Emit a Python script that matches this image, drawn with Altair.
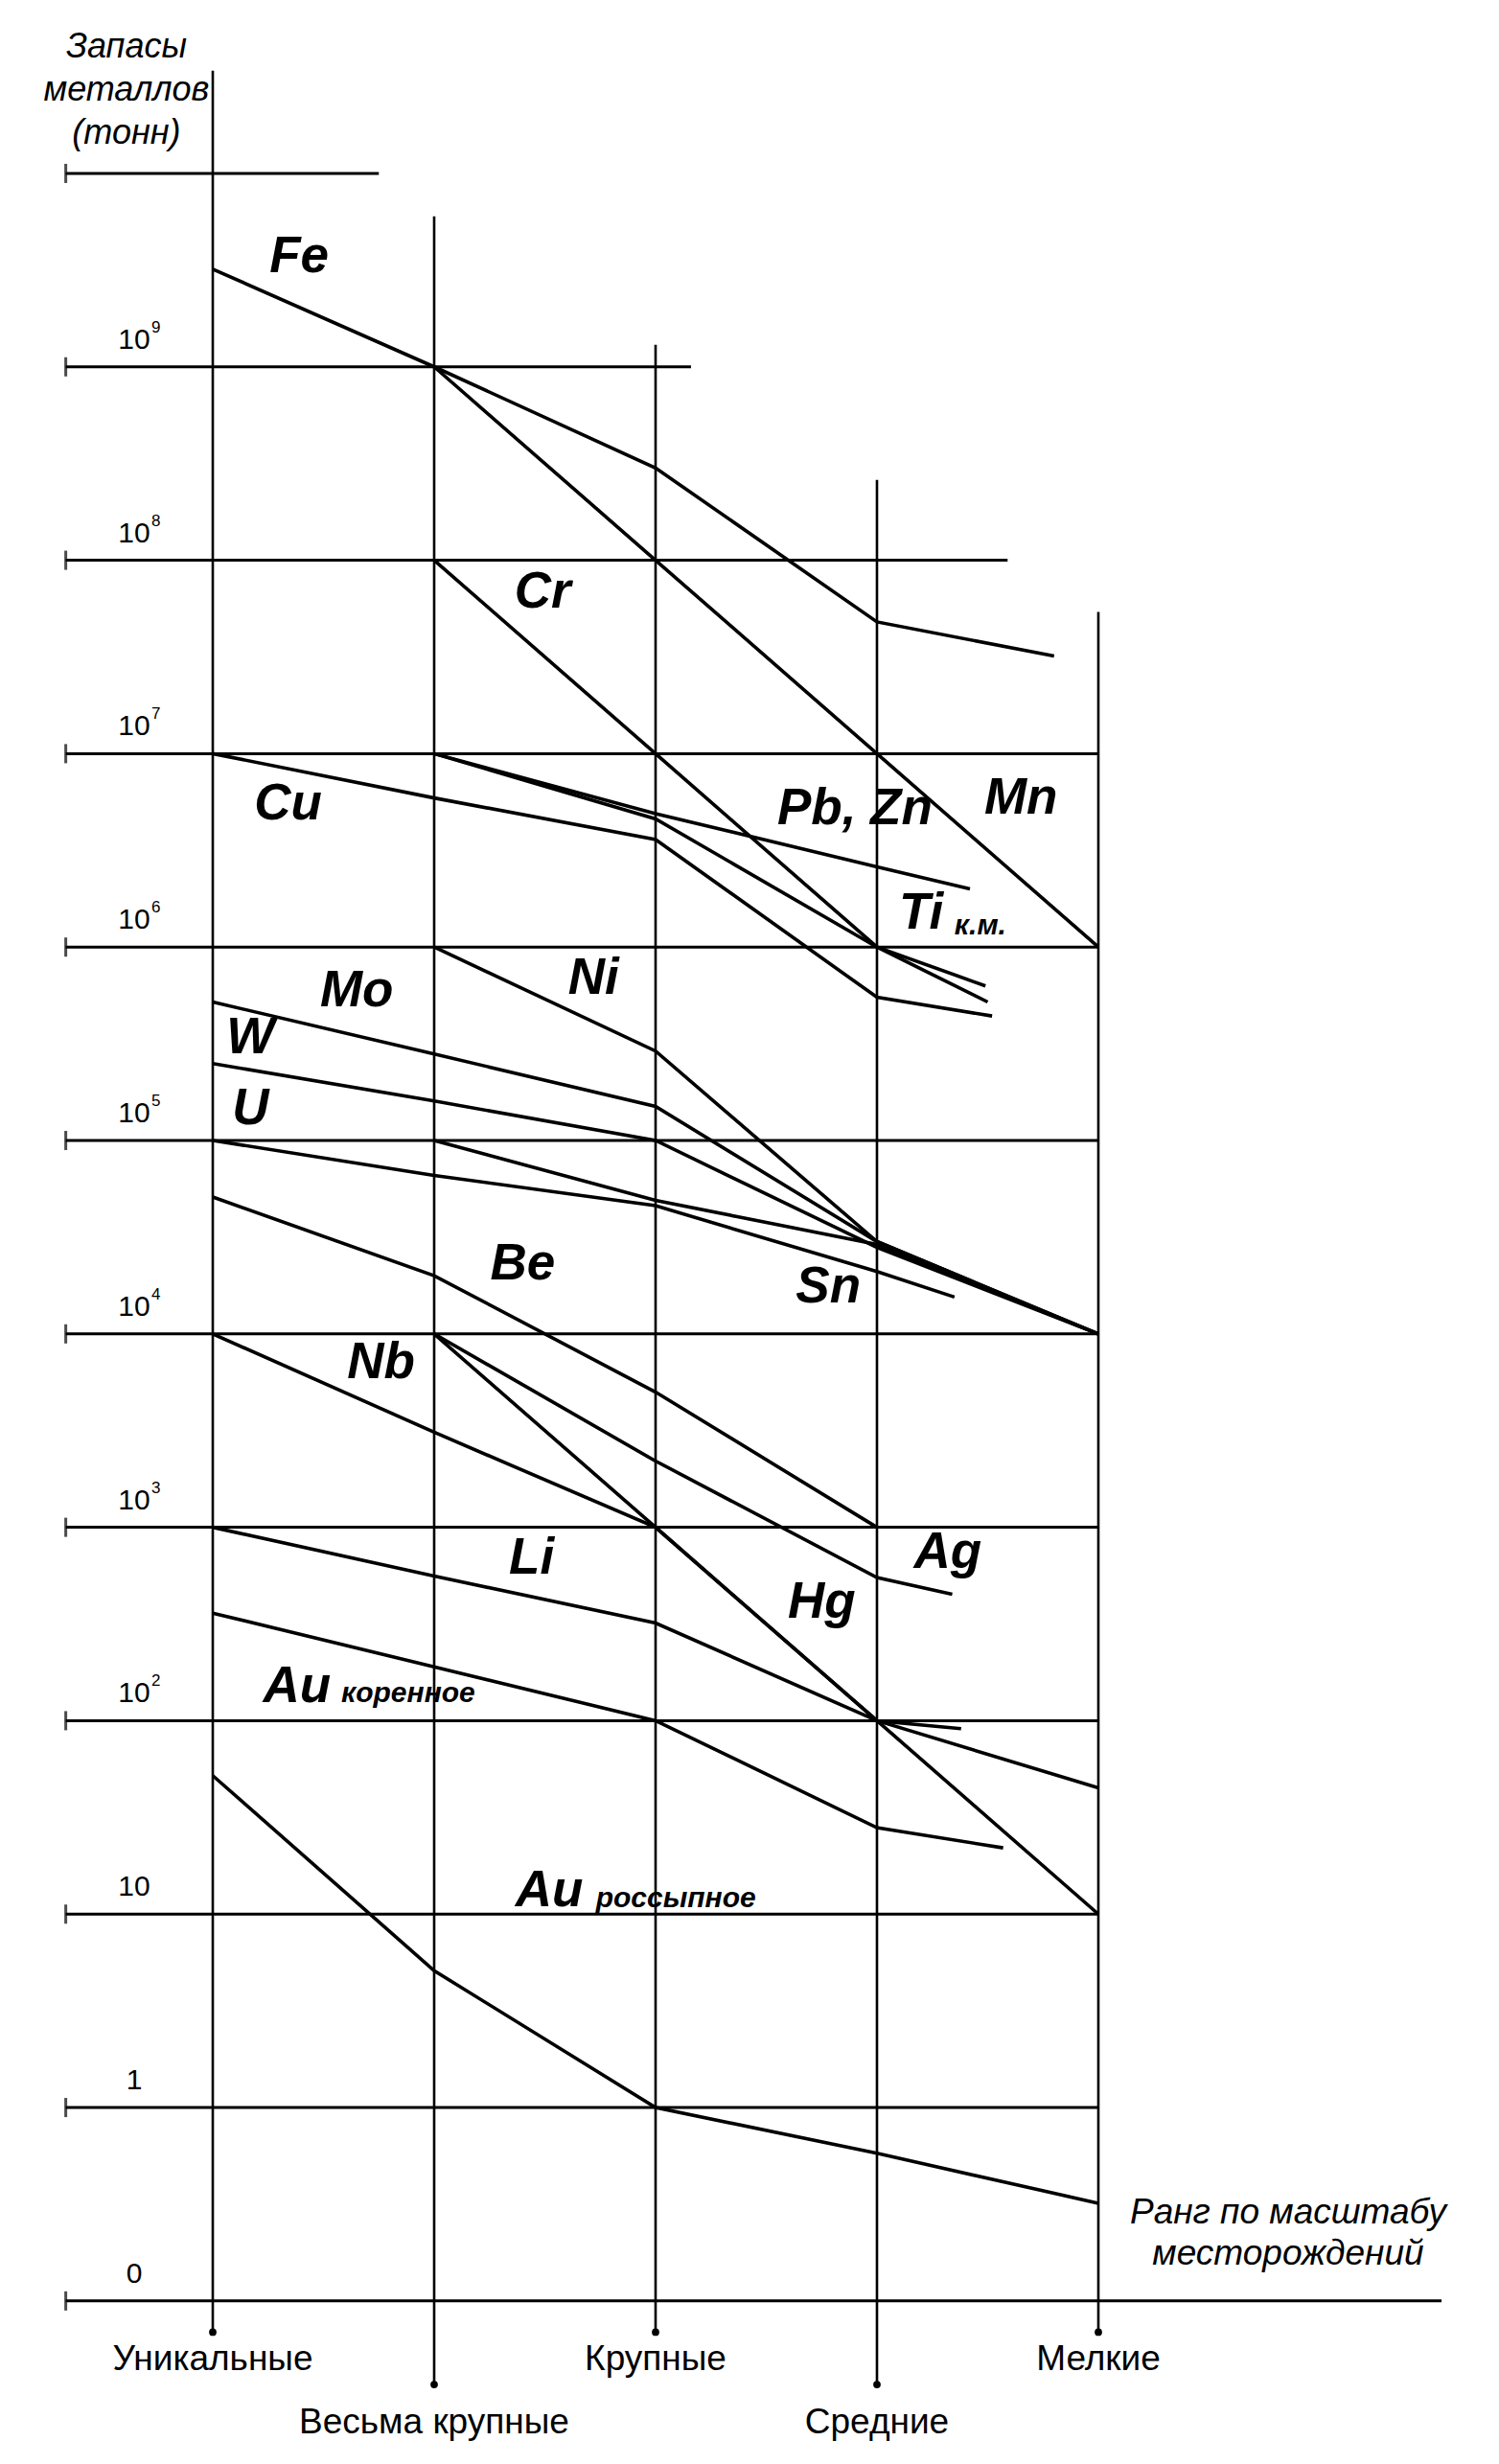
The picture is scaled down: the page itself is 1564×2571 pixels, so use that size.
import altair as alt
import pandas as pd

# ---------------- data ----------------
categories = ["Уникальные", "Весьма крупные", "Крупные", "Средние", "Мелкие"]
category_pos = [1, 2, 3, 4, 5]
category_label_t = [0.0498, 0.0234, 0.0498, 0.0234, 0.0498]   # two staggered label rows
vline_top = [3.4e10, 6.0e9, 1.3e9, 2.6e8, 5.4e7]
vline_bottom = [0.069, 0.037, 0.069, 0.037, 0.069]

decade_values = [1e10, 1e9, 1e8, 1e7, 1e6, 1e5, 1e4, 1e3, 1e2, 10, 1, 0.1]
decade_start = 0.336
decade_end = [1.75, 3.16, 4.59, 5.0, 5.0, 5.0, 5.0, 5.0, 5.0, 5.0, 5.0, 6.55]
tick_base = ["", "10", "10", "10", "10", "10", "10", "10", "10", "10", "1", "0"]
tick_sup = ["", "9", "8", "7", "6", "5", "4", "3", "2", "", "", ""]

# metal reserve lines: (rank positions, tonnes)
series = {
    "Fe":  ([1, 2, 3, 4, 4.8],       [3.2e9, 1e9, 3.0e8, 4.8e7, 3.2e7]),
    "Mn":  ([2, 3, 4, 5],            [1e9, 1e8, 1e7, 1e6]),
    "Cr":  ([2, 3, 4, 4.49],         [1e8, 1e7, 1e6, 6.3e5]),
    "Cu":  ([1, 2, 3, 4, 4.52],      [1e7, 5.9e6, 3.6e6, 5.5e5, 4.4e5]),
    "Pb":  ([2, 3, 4, 4.42],         [1e7, 4.9e6, 2.6e6, 2.0e6]),
    "Zn":  ([2, 3, 4, 4.5],          [1e7, 4.6e6, 1e6, 5.2e5]),
    "Ni":  ([2, 3, 4, 5],            [1e6, 2.9e5, 3.0e4, 1e4]),
    "Mo":  ([1, 2, 3, 4, 5],         [5.2e5, 2.8e5, 1.5e5, 3.0e4, 1e4]),
    "W":   ([1, 2, 3, 4, 5],         [2.5e5, 1.6e5, 1e5, 2.8e4, 1e4]),
    "U":   ([1, 2, 3, 4, 4.35],      [1e5, 6.6e4, 4.6e4, 2.1e4, 1.55e4]),
    "Sn":  ([2, 3, 4, 5],            [1e5, 4.9e4, 2.9e4, 1e4]),
    "Be":  ([1, 2, 3, 4],            [5.1e4, 2.0e4, 5.0e3, 1e3]),
    "Nb":  ([1, 2, 3, 4, 5],         [1e4, 3.1e3, 1e3, 1e2, 10]),
    "Hg":  ([2, 3, 4, 4.38],         [1e4, 1e3, 1e2, 91]),
    "Ag":  ([2, 3, 4, 4.34],         [1e4, 2.2e3, 550, 450]),
    "Li":  ([1, 2, 3, 4, 5],         [1e3, 560, 320, 1e2, 45]),
    "Au_k": ([1, 2, 3, 4, 4.57],     [360, 190, 1e2, 28, 22]),
    "Au_r": ([1, 2, 3, 4, 5],        [52, 5.1, 1, 0.58, 0.32]),
}

# annotation text
metal_labels = ["Fe", "Cr", "Cu", "Pb, Zn", "Mn", "Ti", "Mo", "Ni", "W", "U",
                "Be", "Sn", "Nb", "Ag", "Li", "Hg", "Au", "Au"]
metal_label_x = [1.39, 2.49, 1.34, 3.90, 4.65, 4.20, 1.65, 2.72, 1.17, 1.17,
                 2.40, 3.78, 1.76, 4.32, 2.44, 3.75, 1.38, 2.52]
metal_label_t = [3.7e9, 6.8e7, 5.5e6, 5.2e6, 5.9e6, 1.5e6, 5.9e5, 6.9e5, 3.4e5, 1.45e5,
                 2.3e4, 1.74e4, 7.1e3, 740, 690, 410, 150, 13.2]
sub_labels = ["к.м.", "коренное", "россыпное"]
sub_label_x = [4.35, 1.58, 2.73]
sub_label_t = [1.29e6, 138, 12.0]

y_title = "Запасы\nметаллов\n(тонн)"
x_title = "Ранг по масштабу\nместорождений"

# ---------------- geometry ----------------
X_MIN, X_MAX = 0.0736, 6.7403
T_MIN, T_MAX = 10 ** -1.739, 10 ** 10.857
W, H = 1540, 2542
FONT = "Liberation Sans"

xs = alt.Scale(domain=[X_MIN, X_MAX], nice=False, zero=False)
ys = alt.Scale(type="log", domain=[T_MIN, T_MAX], nice=False)


def X(f):
    return alt.X(f, type="quantitative", scale=xs, axis=None)


def Y(f):
    return alt.Y(f, type="quantitative", scale=ys, axis=None)


# ---------------- tables ----------------
df_dec = pd.DataFrame({"t": decade_values, "x0": decade_start, "x1": decade_end,
                       "base": tick_base, "sup": tick_sup})
df_dec["xl"] = 0.645
df_v = pd.DataFrame({"x": category_pos, "top": vline_top, "bot": vline_bottom,
                     "name": categories, "lt": category_label_t})
rows = []
for name, (px, pt) in series.items():
    for i, (a, b) in enumerate(zip(px, pt)):
        rows.append({"series": name, "i": i, "x": a, "t": b})
df_lines = pd.DataFrame(rows)
df_ml = pd.DataFrame({"label": metal_labels, "x": metal_label_x, "t": metal_label_t})
df_sl = pd.DataFrame({"label": sub_labels, "x": sub_label_x, "t": sub_label_t})
df_yt = pd.DataFrame({"label": [y_title], "x": [0.61], "t": [4.5e10]})
df_xt = pd.DataFrame({"label": [x_title], "x": [5.857], "t": [0.285]})

hlines = alt.Chart(df_dec).mark_rule(color="black", strokeWidth=3.0).encode(
    x=X("x0"), x2="x1", y=Y("t"))
hticks = alt.Chart(df_dec).mark_tick(orient="vertical", color="black", size=20,
                                     thickness=3.0).encode(x=X("x0"), y=Y("t"))
vlines = alt.Chart(df_v).mark_rule(color="black", strokeWidth=2.6).encode(
    x=X("x"), y=Y("top"), y2="bot")
dots = alt.Chart(df_v).mark_circle(color="black", size=60, opacity=1).encode(
    x=X("x"), y=Y("bot"))
cat_text = alt.Chart(df_v).mark_text(font=FONT, fontSize=37, color="black",
                                     baseline="middle", align="center").encode(
    x=X("x"), y=Y("lt"), text="name:N")
tick_text = alt.Chart(df_dec).mark_text(font=FONT, fontSize=30, color="black",
                                        baseline="middle", align="center", dy=-28).encode(
    x=X("xl"), y=Y("t"), text="base:N")
sup_text = alt.Chart(df_dec).mark_text(font=FONT, fontSize=17, color="black",
                                       baseline="middle", align="left", dx=18, dy=-41).encode(
    x=X("xl"), y=Y("t"), text="sup:N")
metal_lines = alt.Chart(df_lines).mark_line(color="black", strokeWidth=3.6).encode(
    x=X("x"), y=Y("t"), detail="series:N", order="i:Q")
metal_text = alt.Chart(df_ml).mark_text(font=FONT, fontSize=53, fontWeight="bold",
                                        fontStyle="italic", color="black",
                                        baseline="middle", align="center").encode(
    x=X("x"), y=Y("t"), text="label:N")
sub_text = alt.Chart(df_sl).mark_text(font=FONT, fontSize=30, fontWeight="bold",
                                      fontStyle="italic", color="black",
                                      baseline="middle", align="left").encode(
    x=X("x"), y=Y("t"), text="label:N")
ytitle = alt.Chart(df_yt).mark_text(
    font=FONT, fontSize=36, fontStyle="italic", color="black", align="center",
    baseline="middle", lineBreak="\n", lineHeight=45).encode(
    x=X("x"), y=Y("t"), text="label:N")
xtitle = alt.Chart(df_xt).mark_text(
    font=FONT, fontSize=37, fontStyle="italic", color="black", align="center",
    baseline="middle", lineBreak="\n", lineHeight=43).encode(
    x=X("x"), y=Y("t"), text="label:N")

chart = alt.layer(
    hlines, hticks, vlines, dots, metal_lines, tick_text, sup_text,
    cat_text, metal_text, sub_text, ytitle, xtitle
).properties(
    width=W, height=H, padding=0,
    autosize=alt.AutoSizeParams(type="none"),
    background="white",
).configure_view(stroke=None)

chart.save("out.html", embed_options={"renderer": "svg", "actions": False})
